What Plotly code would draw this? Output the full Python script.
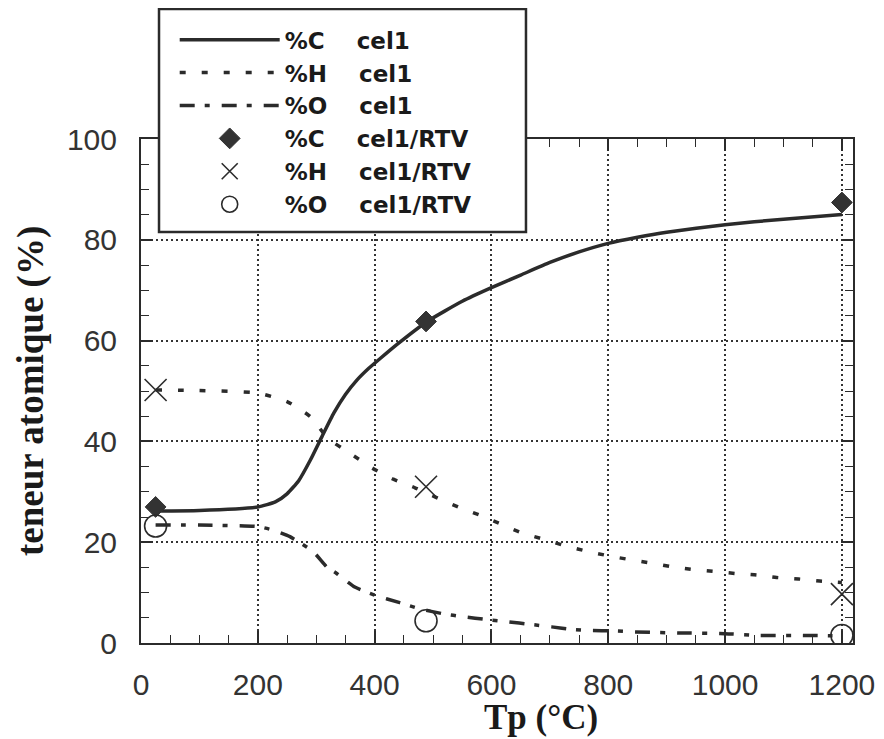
import plotly.graph_objects as go

# ---- data ----
# model curves, sample "cel1"
c_x = [25, 100, 200, 230, 250, 270, 290, 310, 330, 350, 370, 390, 410, 440, 490,
       550, 600, 650, 700, 750, 800, 850, 900, 1000, 1100, 1200]
c_y = [26.2, 26.3, 27.0, 28.0, 29.6, 32.2, 36.3, 41.0, 45.6, 49.3, 52.2, 54.5, 56.5,
       59.4, 63.8, 67.8, 70.5, 73.0, 75.5, 77.6, 79.3, 80.5, 81.5, 83.0, 84.1, 85.0]

h_x = [25, 100, 200, 250, 290, 320, 357, 396, 432, 469, 505, 543, 579, 616, 651,
       689, 723, 760, 800, 834, 871, 905, 945, 982, 1017, 1054, 1088, 1126, 1162, 1200]
h_y = [50.2, 50.1, 49.6, 47.9, 44.9, 40.6, 37.7, 34.7, 32.5, 30.8, 28.9, 27.0, 25.4,
       23.6, 21.9, 20.6, 19.4, 18.3, 17.3, 16.6, 15.9, 15.2, 14.6, 14.2, 13.8, 13.5,
       13.0, 12.7, 12.3, 12.0]

o_x = [25, 100, 200, 226, 255, 295, 318, 335, 366, 400, 443, 477, 517, 552, 592,
       629, 666, 703, 739, 769, 808, 846, 919, 991, 1059, 1133, 1200]
o_y = [23.4, 23.4, 23.1, 22.4, 21.1, 18.1, 15.1, 13.8, 11.1, 9.5, 8.0, 6.8, 5.8, 5.2,
       4.65, 4.2, 3.7, 3.2, 2.7, 2.5, 2.4, 2.2, 2.0, 1.9, 1.5, 1.5, 1.4]

# measured points, sample "cel1/RTV"
rtv_x = [25, 488, 1200]
rtv_c = [27.0, 63.8, 87.4]
rtv_h = [50.2, 31.0, 9.7]
rtv_o = [23.2, 4.4, 1.5]

x_ticks = [0, 200, 400, 600, 800, 1000, 1200]
y_ticks = [0, 20, 40, 60, 80, 100]

SP = "\u00a0" * 4
names = ["%C" + SP + "cel1", "%H" + SP + "cel1", "%O" + SP + "cel1",
         "%C" + SP + "cel1/RTV", "%H" + SP + "cel1/RTV", "%O" + SP + "cel1/RTV"]

INK = "#2b2b2b"

fig = go.Figure()
fig.add_trace(go.Scatter(x=c_x, y=c_y, mode="lines", name=names[0],
                         line=dict(color=INK, width=3.5, shape="spline", smoothing=0.5)))
fig.add_trace(go.Scatter(x=h_x, y=h_y, mode="lines", name=names[1],
                         line=dict(color=INK, width=3.5, dash="6px,16px", shape="spline", smoothing=0.5)))
fig.add_trace(go.Scatter(x=o_x, y=o_y, mode="lines", name=names[2],
                         line=dict(color=INK, width=3.5, dash="15px,10px,5px,12px", shape="spline", smoothing=0.5)))
fig.add_trace(go.Scatter(x=rtv_x, y=rtv_c, mode="markers", name=names[3],
                         marker=dict(symbol="diamond", size=16, color="#333333",
                                     line=dict(color="#333333", width=1))))
fig.add_trace(go.Scatter(x=rtv_x, y=rtv_h, mode="markers", name=names[4],
                         marker=dict(symbol="x-thin", size=22, color=INK,
                                     line=dict(color=INK, width=1.6))))
fig.add_trace(go.Scatter(x=rtv_x, y=rtv_o, mode="markers", name=names[5],
                         marker=dict(symbol="circle-open", size=22, color=INK,
                                     line=dict(color=INK, width=1.6))))

axis_common = dict(
    showline=True, linecolor=INK, linewidth=2, mirror="ticks",
    ticks="inside", ticklen=12, tickwidth=1.5, tickcolor=INK,
    showgrid=True, gridcolor="#333333", gridwidth=1.5, griddash="2px,3px",
    zeroline=False, automargin=False,
    tickfont=dict(family="Liberation Sans, Arial, sans-serif", size=30, color="#333333"),
)

fig.update_xaxes(range=[0, 1219], tickvals=x_ticks, ticklabelstandoff=14,
                 minor=dict(dtick=50, ticks="inside", ticklen=8, tickwidth=1.2,
                            tickcolor=INK, showgrid=False),
                 **axis_common)
fig.update_yaxes(range=[0, 100], tickvals=y_ticks, ticklabelstandoff=16,
                 minor=dict(dtick=5, ticks="inside", ticklen=8, tickwidth=1.2,
                            tickcolor=INK, showgrid=False),
                 **axis_common)

fig.update_layout(
    width=876, height=731,
    margin=dict(l=133, r=31, t=131, b=96, autoexpand=False),
    paper_bgcolor="white", plot_bgcolor="white",
    showlegend=True,
    legend=dict(xref="container", yref="container", x=0.1903, y=0.986,
                xanchor="left", yanchor="top",
                bgcolor="rgba(0,0,0,0)", borderwidth=0,
                itemwidth=100,
                font=dict(family="DejaVu Sans, sans-serif", size=23, color="#1a1a1a",
                          weight="bold"),
                traceorder="normal"),
    shapes=[dict(type="rect", xref="paper", yref="paper",
                 x0=0.0253, x1=0.5407, y0=0.8155, y1=1.2579,
                 line=dict(color=INK, width=2.5), fillcolor="white", layer="above")],
    annotations=[
        dict(text="<b>teneur atomique (%)</b>", xref="paper", yref="paper",
             x=-0.1545, y=0.5, textangle=-90, showarrow=False,
             xanchor="center", yanchor="middle",
             font=dict(family="Liberation Serif, Times New Roman, serif", size=37, color="#1a1a1a")),
        dict(text="<b>Tp (°C)</b>", xref="paper", yref="paper",
             x=0.5618, y=-0.147, showarrow=False, xanchor="center", yanchor="middle",
             font=dict(family="Liberation Serif, Times New Roman, serif", size=35, color="#1a1a1a")),
    ],
)

fig.write_html("out.html")
